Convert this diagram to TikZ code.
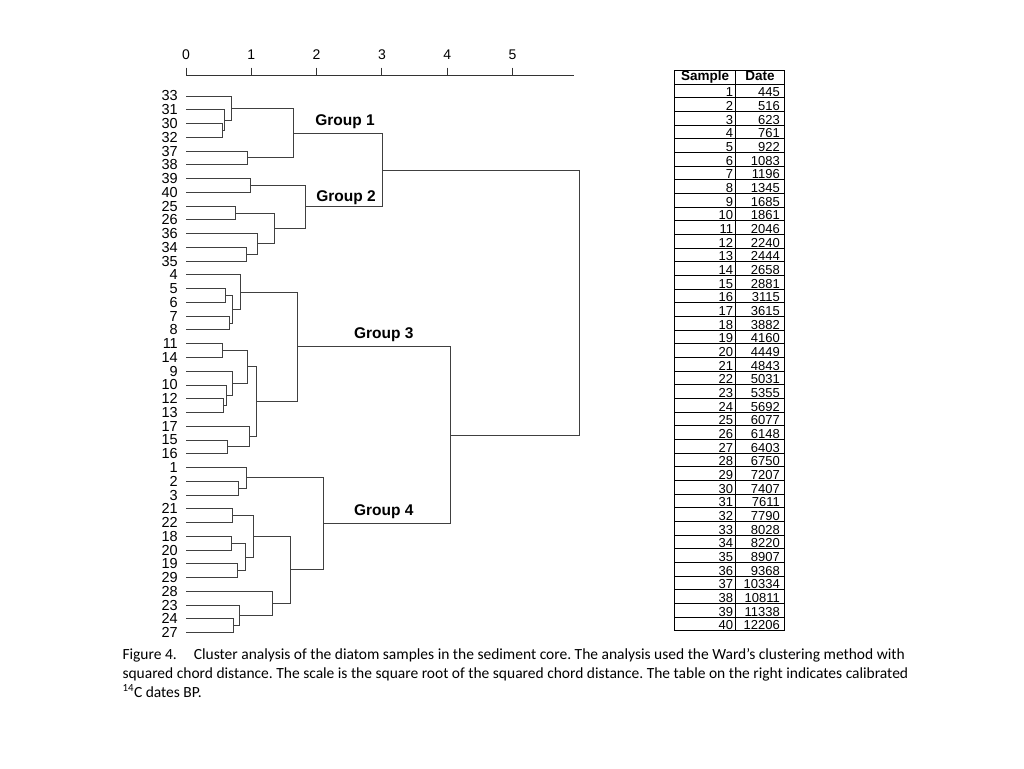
\documentclass[tikz,border=0pt]{standalone}
\usepackage{fontspec}
\setmainfont{Liberation Sans}
\newfontfamily\captionfont{Carlito}
\usepackage{tikz}
\usetikzlibrary{calc,positioning}
\frenchspacing

\begin{document}
\begin{tikzpicture}[
    x=1pt, y=-1pt,
    branch/.style={draw=black!75, line width=0.9pt},
    axisline/.style={draw=black!80, line width=0.9pt},
    grid/.style={draw=black, line width=0.9pt},
    leaflabel/.style={anchor=east, inner sep=0pt, xshift=-8pt, font=\fontsize{14.5}{14.5}\selectfont},
    ticklabel/.style={anchor=base, inner sep=0pt, font=\fontsize{14}{14}\selectfont},
    grouplabel/.style={inner sep=0pt, font=\fontsize{15.5}{15.5}\selectfont\bfseries},
    cell/.style={anchor=base east, inner sep=0pt, font=\fontsize{13}{13}\selectfont},
    head/.style={anchor=base, inner sep=0pt, font=\fontsize{13.5}{13.5}\selectfont\bfseries},
    captext/.style={anchor=base west, inner sep=0pt, font=\captionfont\fontsize{15.5}{15.5}\selectfont}
]
    \useasboundingbox (0,0) rectangle (1024,768);

    % Scale axis
    \draw[axisline] (186,75.7) -- (574,75.7);
    \foreach \t in {0,...,5} {
        \draw[axisline] ({186+65.3*\t},67.5) -- ({186+65.3*\t},75.7);
        \node[ticklabel] (t\t) at ({186+65.3*\t},59.5) {\t};
    }

    % Dendrogram: x = distance, y = leaf position
    \begin{scope}[shift={(186pt,-96pt)}, x=65.3pt, y=-13.76pt]
        % Leaves
        \foreach \s [count=\i from 0] in {33,31,30,32,37,38,39,40,25,26,36,34,35,
            4,5,6,7,8,11,14,9,10,12,13,17,15,16,1,2,3,21,22,18,20,19,29,28,23,24,27} {
            \coordinate (s\s) at (0,\i);
            \node[leaflabel] (l\s) at (s\s) {\s};
        }

        % Merges: name / distance / first child / second child
        \foreach \nm/\dist/\ca/\cb in {
            a1/0.56/s30/s32, a2/0.59/s31/a1, a3/0.70/s33/a2, a4/0.94/s37/s38, a5/1.65/a3/a4,
            b1/0.98/s39/s40, b2/0.76/s25/s26, b3/0.92/s34/s35, b4/1.09/s36/b3,
            b5/1.36/b2/b4, b6/1.83/b1/b5, top1/3.01/a5/b6,
            c1/0.61/s5/s6, c2/0.66/s7/s8, c3/0.71/c1/c2, c4/0.83/s4/c3,
            c5/0.56/s11/s14, c6/0.58/s12/s13, c7/0.62/s10/c6, c8/0.71/s9/c7,
            c9/0.94/c5/c8, c10/0.64/s15/s16, c11/0.97/s17/c10, c12/1.08/c9/c11,
            c13/1.70/c4/c12,
            d1/0.80/s2/s3, d2/0.93/s1/d1, d3/0.71/s21/s22, d4/0.70/s18/s20,
            d5/0.79/s19/s29, d6/0.91/d4/d5, d7/1.04/d3/d6, d8/0.72/s24/s27,
            d9/0.82/s23/d8, d10/1.33/s28/d9, d11/1.60/d7/d10, d12/2.10/d2/d11,
            top2/4.05/c13/d12, root/6.03/top1/top2} {
            \coordinate (mid) at ($(\ca)!0.5!(\cb)$);
            \coordinate (xpos) at (\dist,0);
            \coordinate (\nm) at (mid -| xpos);
            \draw[branch] (\ca) -| (\nm);
            \draw[branch] (\cb) -| (\nm);
        }

        % Group labels
        \node[grouplabel] (g1) at (2.435,1.87) {Group 1};
        \node[grouplabel] (g2) at (2.45,7.36) {Group 2};
        \node[grouplabel] (g3) at (3.03,17.37) {Group 3};
        \node[grouplabel] (g4) at (3.03,30.23) {Group 4};
    \end{scope}

    % Table of dates
    \draw[grid] (674.5,70) rectangle (784,630.7);
    \draw[grid] (735.3,70) -- (735.3,630.7);
    \node[head] (hs) at (705,80) {Sample};
    \node[head] (hd) at (760,80) {Date};
    \foreach \n/\dt [count=\i] in {1/445,2/516,3/623,4/761,5/922,6/1083,7/1196,8/1345,
        9/1685,10/1861,11/2046,12/2240,13/2444,14/2658,15/2881,16/3115,17/3615,18/3882,
        19/4160,20/4449,21/4843,22/5031,23/5355,24/5692,25/6077,26/6148,27/6403,28/6750,
        29/7207,30/7407,31/7611,32/7790,33/8028,34/8220,35/8907,36/9368,37/10334,
        38/10811,39/11338,40/12206} {
        \draw[grid] (674.5,{70.33+13.67*\i}) -- (784,{70.33+13.67*\i});
        \node[cell] (n\i) at (733.3,{83+13.67*\i}) {\n};
        \node[cell] (d\i) at (780,{83+13.67*\i}) {\dt};
    }

    % Caption
    \node[captext] (cap1) at (122.3,659.3) {Figure 4.\hspace{1.1em}Cluster analysis of the diatom samples in the sediment core. The analysis used the Ward’s clustering method with};
    \node[captext] (cap2) at (122.3,678.3) {squared chord distance. The scale is the square root of the squared chord distance. The table on the right indicates calibrated};
    \node[captext] (cap3) at (122.3,697) {\textsuperscript{14}C dates BP.};
\end{tikzpicture}
\end{document}
